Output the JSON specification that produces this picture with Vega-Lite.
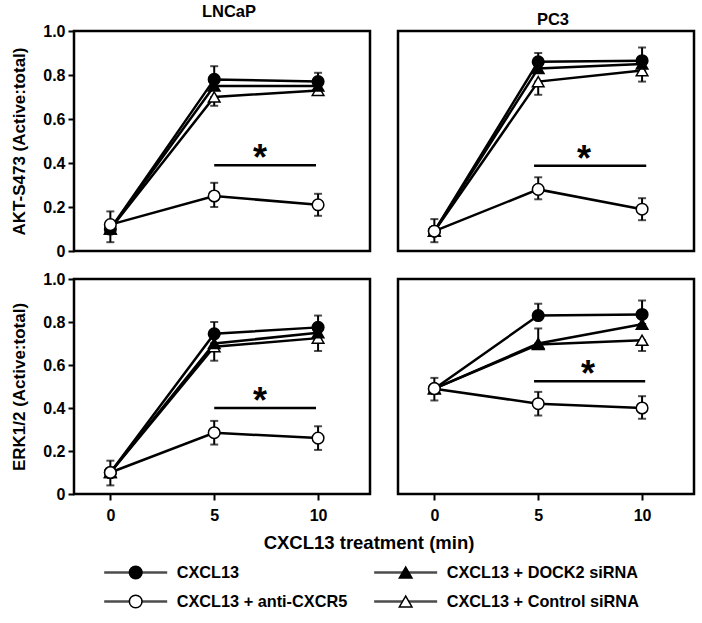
{
"$schema": "https://vega.github.io/schema/vega-lite/v6.json",
"background": "white",
"padding": {"top": 2, "left": 9, "right": 5, "bottom": 0},
"config": {
 "font": "Liberation Sans",
 "view": {"stroke": "black", "strokeWidth": 2.5},
 "axis": {"labelFont": "Liberation Sans", "labelFontWeight": "bold", "labelFontSize": 16, "labelColor": "black", "tickColor": "black", "tickWidth": 2, "tickSize": 6, "labelPadding": 3, "domain": false, "grid": false, "titleFont": "Liberation Sans", "titleFontWeight": "bold", "titleFontSize": 17, "titleColor": "black"},
 "title": {"font": "Liberation Sans", "fontWeight": "bold", "fontSize": 16.5, "color": "black", "offset": 3}
},
"datasets": {
 "pts": [
  {"cell":"LNCaP","measure":"AKT","series":"CXCL13 + Control siRNA","t":0,"v":0.10,"lo":0.10,"hi":0.10},
  {"cell":"LNCaP","measure":"AKT","series":"CXCL13 + Control siRNA","t":5,"v":0.70,"lo":0.66,"hi":0.70},
  {"cell":"LNCaP","measure":"AKT","series":"CXCL13 + Control siRNA","t":10,"v":0.73,"lo":0.71,"hi":0.73},
  {"cell":"LNCaP","measure":"AKT","series":"CXCL13 + DOCK2 siRNA","t":0,"v":0.10,"lo":0.10,"hi":0.10},
  {"cell":"LNCaP","measure":"AKT","series":"CXCL13 + DOCK2 siRNA","t":5,"v":0.75,"lo":0.75,"hi":0.75},
  {"cell":"LNCaP","measure":"AKT","series":"CXCL13 + DOCK2 siRNA","t":10,"v":0.75,"lo":0.75,"hi":0.75},
  {"cell":"LNCaP","measure":"AKT","series":"CXCL13","t":0,"v":0.10,"lo":0.10,"hi":0.10},
  {"cell":"LNCaP","measure":"AKT","series":"CXCL13","t":5,"v":0.78,"lo":0.78,"hi":0.84},
  {"cell":"LNCaP","measure":"AKT","series":"CXCL13","t":10,"v":0.77,"lo":0.77,"hi":0.81},
  {"cell":"LNCaP","measure":"AKT","series":"CXCL13 + anti-CXCR5","t":0,"v":0.12,"lo":0.04,"hi":0.18},
  {"cell":"LNCaP","measure":"AKT","series":"CXCL13 + anti-CXCR5","t":5,"v":0.25,"lo":0.20,"hi":0.31},
  {"cell":"LNCaP","measure":"AKT","series":"CXCL13 + anti-CXCR5","t":10,"v":0.21,"lo":0.16,"hi":0.26},

  {"cell":"PC3","measure":"AKT","series":"CXCL13 + Control siRNA","t":0,"v":0.09,"lo":0.09,"hi":0.09},
  {"cell":"PC3","measure":"AKT","series":"CXCL13 + Control siRNA","t":5,"v":0.77,"lo":0.71,"hi":0.77},
  {"cell":"PC3","measure":"AKT","series":"CXCL13 + Control siRNA","t":10,"v":0.82,"lo":0.77,"hi":0.82},
  {"cell":"PC3","measure":"AKT","series":"CXCL13 + DOCK2 siRNA","t":0,"v":0.09,"lo":0.09,"hi":0.09},
  {"cell":"PC3","measure":"AKT","series":"CXCL13 + DOCK2 siRNA","t":5,"v":0.83,"lo":0.83,"hi":0.83},
  {"cell":"PC3","measure":"AKT","series":"CXCL13 + DOCK2 siRNA","t":10,"v":0.85,"lo":0.85,"hi":0.85},
  {"cell":"PC3","measure":"AKT","series":"CXCL13","t":0,"v":0.09,"lo":0.09,"hi":0.09},
  {"cell":"PC3","measure":"AKT","series":"CXCL13","t":5,"v":0.86,"lo":0.86,"hi":0.90},
  {"cell":"PC3","measure":"AKT","series":"CXCL13","t":10,"v":0.865,"lo":0.865,"hi":0.925},
  {"cell":"PC3","measure":"AKT","series":"CXCL13 + anti-CXCR5","t":0,"v":0.09,"lo":0.04,"hi":0.145},
  {"cell":"PC3","measure":"AKT","series":"CXCL13 + anti-CXCR5","t":5,"v":0.28,"lo":0.235,"hi":0.335},
  {"cell":"PC3","measure":"AKT","series":"CXCL13 + anti-CXCR5","t":10,"v":0.19,"lo":0.14,"hi":0.24},

  {"cell":"LNCaP","measure":"ERK","series":"CXCL13 + Control siRNA","t":0,"v":0.10,"lo":0.10,"hi":0.10},
  {"cell":"LNCaP","measure":"ERK","series":"CXCL13 + Control siRNA","t":5,"v":0.685,"lo":0.62,"hi":0.685},
  {"cell":"LNCaP","measure":"ERK","series":"CXCL13 + Control siRNA","t":10,"v":0.725,"lo":0.665,"hi":0.725},
  {"cell":"LNCaP","measure":"ERK","series":"CXCL13 + DOCK2 siRNA","t":0,"v":0.10,"lo":0.10,"hi":0.10},
  {"cell":"LNCaP","measure":"ERK","series":"CXCL13 + DOCK2 siRNA","t":5,"v":0.70,"lo":0.70,"hi":0.70},
  {"cell":"LNCaP","measure":"ERK","series":"CXCL13 + DOCK2 siRNA","t":10,"v":0.75,"lo":0.75,"hi":0.75},
  {"cell":"LNCaP","measure":"ERK","series":"CXCL13","t":0,"v":0.10,"lo":0.10,"hi":0.10},
  {"cell":"LNCaP","measure":"ERK","series":"CXCL13","t":5,"v":0.745,"lo":0.745,"hi":0.80},
  {"cell":"LNCaP","measure":"ERK","series":"CXCL13","t":10,"v":0.775,"lo":0.775,"hi":0.83},
  {"cell":"LNCaP","measure":"ERK","series":"CXCL13 + anti-CXCR5","t":0,"v":0.10,"lo":0.04,"hi":0.155},
  {"cell":"LNCaP","measure":"ERK","series":"CXCL13 + anti-CXCR5","t":5,"v":0.285,"lo":0.23,"hi":0.34},
  {"cell":"LNCaP","measure":"ERK","series":"CXCL13 + anti-CXCR5","t":10,"v":0.26,"lo":0.205,"hi":0.315},

  {"cell":"PC3","measure":"ERK","series":"CXCL13 + Control siRNA","t":0,"v":0.49,"lo":0.49,"hi":0.49},
  {"cell":"PC3","measure":"ERK","series":"CXCL13 + Control siRNA","t":5,"v":0.695,"lo":0.695,"hi":0.695},
  {"cell":"PC3","measure":"ERK","series":"CXCL13 + Control siRNA","t":10,"v":0.715,"lo":0.665,"hi":0.715},
  {"cell":"PC3","measure":"ERK","series":"CXCL13 + DOCK2 siRNA","t":0,"v":0.49,"lo":0.49,"hi":0.49},
  {"cell":"PC3","measure":"ERK","series":"CXCL13 + DOCK2 siRNA","t":5,"v":0.70,"lo":0.70,"hi":0.77},
  {"cell":"PC3","measure":"ERK","series":"CXCL13 + DOCK2 siRNA","t":10,"v":0.79,"lo":0.79,"hi":0.79},
  {"cell":"PC3","measure":"ERK","series":"CXCL13","t":0,"v":0.49,"lo":0.49,"hi":0.49},
  {"cell":"PC3","measure":"ERK","series":"CXCL13","t":5,"v":0.83,"lo":0.83,"hi":0.885},
  {"cell":"PC3","measure":"ERK","series":"CXCL13","t":10,"v":0.835,"lo":0.835,"hi":0.90},
  {"cell":"PC3","measure":"ERK","series":"CXCL13 + anti-CXCR5","t":0,"v":0.49,"lo":0.435,"hi":0.54},
  {"cell":"PC3","measure":"ERK","series":"CXCL13 + anti-CXCR5","t":5,"v":0.42,"lo":0.365,"hi":0.475},
  {"cell":"PC3","measure":"ERK","series":"CXCL13 + anti-CXCR5","t":10,"v":0.40,"lo":0.35,"hi":0.455}
 ],
 "sig": [
  {"cell":"LNCaP","measure":"AKT","t":5,"t2":9.9,"tm":7.2,"v":0.39,"star":"*"},
  {"cell":"PC3","measure":"AKT","t":4.8,"t2":10.2,"tm":7.2,"v":0.388,"star":"*"},
  {"cell":"LNCaP","measure":"ERK","t":5,"t2":9.9,"tm":7.2,"v":0.40,"star":"*"},
  {"cell":"PC3","measure":"ERK","t":4.8,"t2":10.15,"tm":7.4,"v":0.524,"star":"*"}
 ],
 "leg": [
  {"series":"CXCL13","label":"CXCL13","lcol":0,"lrow":0},
  {"series":"CXCL13 + anti-CXCR5","label":"CXCL13 + anti-CXCR5","lcol":0,"lrow":1},
  {"series":"CXCL13 + DOCK2 siRNA","label":"CXCL13 + DOCK2 siRNA","lcol":1,"lrow":0},
  {"series":"CXCL13 + Control siRNA","label":"CXCL13 + Control siRNA","lcol":1,"lrow":1}
 ]
},
"spacing": 8,
"vconcat": [
 {
  "columns": 2,
  "spacing": {"row": 8, "column": 24},
  "concat": [
   {
    "width": 296, "height": 220,
    "title": {"text": "LNCaP", "dx": 7},
    "encoding": {
     "x": {"field":"t","type":"quantitative","scale":{"domain":[-1.75,12.5]},"axis":null},
     "y": {"field":"v","type":"quantitative","scale":{"domain":[0,1]},"axis":{"values":[0,0.2,0.4,0.6,0.8,1],"labelExpr":"datum.value == 0 ? '0' : format(datum.value, '.1f')","title":"AKT-S473 (Active:total)","titlePadding":14}}
    },
    "layer": [
     {"data":{"name":"pts"},"transform":[{"filter":"datum.cell == 'LNCaP' && datum.measure == 'AKT'"}],"mark":{"type":"rule","strokeWidth":2,"color":"black"},"encoding":{"y":{"field":"lo","type":"quantitative","scale":{"domain":[0,1]},"axis":{"values":[0,0.2,0.4,0.6,0.8,1],"labelExpr":"datum.value == 0 ? '0' : format(datum.value, '.1f')","title":"AKT-S473 (Active:total)","titlePadding":14}},"y2":{"field":"hi"}}},
     {"data":{"name":"pts"},"transform":[{"filter":"datum.cell == 'LNCaP' && datum.measure == 'AKT'"}],"mark":{"type":"tick","orient":"horizontal","size":8,"thickness":2,"color":"black"},"encoding":{"y":{"field":"hi","type":"quantitative","scale":{"domain":[0,1]},"axis":{"values":[0,0.2,0.4,0.6,0.8,1],"labelExpr":"datum.value == 0 ? '0' : format(datum.value, '.1f')","title":"AKT-S473 (Active:total)","titlePadding":14}}}},
     {"data":{"name":"pts"},"transform":[{"filter":"datum.cell == 'LNCaP' && datum.measure == 'AKT'"}],"mark":{"type":"tick","orient":"horizontal","size":8,"thickness":2,"color":"black"},"encoding":{"y":{"field":"lo","type":"quantitative","scale":{"domain":[0,1]},"axis":{"values":[0,0.2,0.4,0.6,0.8,1],"labelExpr":"datum.value == 0 ? '0' : format(datum.value, '.1f')","title":"AKT-S473 (Active:total)","titlePadding":14}}}},
     {"data":{"name":"pts"},"transform":[{"filter":"datum.cell == 'LNCaP' && datum.measure == 'AKT'"}],"mark":{"type":"line","color":"black","strokeWidth":2.5},"encoding":{"detail":{"field":"series"}}},
     {"data":{"name":"pts"},"transform":[{"filter":"datum.cell == 'LNCaP' && datum.measure == 'AKT'"}],"mark":{"type":"point","filled":true,"size":135,"stroke":"black","strokeWidth":1.5,"opacity":1},"encoding":{"shape":{"field":"series","type":"nominal","scale":{"domain":["CXCL13","CXCL13 + anti-CXCR5","CXCL13 + DOCK2 siRNA","CXCL13 + Control siRNA"],"range":["circle","circle","triangle-up","triangle-up"]},"legend":null},"fill":{"field":"series","type":"nominal","scale":{"domain":["CXCL13","CXCL13 + anti-CXCR5","CXCL13 + DOCK2 siRNA","CXCL13 + Control siRNA"],"range":["black","white","black","white"]},"legend":null}}},
     {"data":{"name":"sig"},"transform":[{"filter":"datum.cell == 'LNCaP' && datum.measure == 'AKT'"}],"mark":{"type":"rule","strokeWidth":2.5,"color":"black"},"encoding":{"x2":{"field":"t2"}}},
     {"data":{"name":"sig"},"transform":[{"filter":"datum.cell == 'LNCaP' && datum.measure == 'AKT'"}],"mark":{"type":"text","fontSize":36,"fontWeight":"bold","baseline":"alphabetic","dy":5,"color":"black"},"encoding":{"x":{"field":"tm","type":"quantitative","scale":{"domain":[-1.75,12.5]},"axis":null},"text":{"field":"star"}}}
    ]
   },
   {
    "width": 296, "height": 220,
    "title": {"text": "PC3", "dx": 7},
    "encoding": {
     "x": {"field":"t","type":"quantitative","scale":{"domain":[-1.75,12.5]},"axis":null},
     "y": {"field":"v","type":"quantitative","scale":{"domain":[0,1]},"axis":null}
    },
    "layer": [
     {"data":{"name":"pts"},"transform":[{"filter":"datum.cell == 'PC3' && datum.measure == 'AKT'"}],"mark":{"type":"rule","strokeWidth":2,"color":"black"},"encoding":{"y":{"field":"lo","type":"quantitative","scale":{"domain":[0,1]},"axis":null},"y2":{"field":"hi"}}},
     {"data":{"name":"pts"},"transform":[{"filter":"datum.cell == 'PC3' && datum.measure == 'AKT'"}],"mark":{"type":"tick","orient":"horizontal","size":8,"thickness":2,"color":"black"},"encoding":{"y":{"field":"hi","type":"quantitative","scale":{"domain":[0,1]},"axis":null}}},
     {"data":{"name":"pts"},"transform":[{"filter":"datum.cell == 'PC3' && datum.measure == 'AKT'"}],"mark":{"type":"tick","orient":"horizontal","size":8,"thickness":2,"color":"black"},"encoding":{"y":{"field":"lo","type":"quantitative","scale":{"domain":[0,1]},"axis":null}}},
     {"data":{"name":"pts"},"transform":[{"filter":"datum.cell == 'PC3' && datum.measure == 'AKT'"}],"mark":{"type":"line","color":"black","strokeWidth":2.5},"encoding":{"detail":{"field":"series"}}},
     {"data":{"name":"pts"},"transform":[{"filter":"datum.cell == 'PC3' && datum.measure == 'AKT'"}],"mark":{"type":"point","filled":true,"size":135,"stroke":"black","strokeWidth":1.5,"opacity":1},"encoding":{"shape":{"field":"series","type":"nominal","scale":{"domain":["CXCL13","CXCL13 + anti-CXCR5","CXCL13 + DOCK2 siRNA","CXCL13 + Control siRNA"],"range":["circle","circle","triangle-up","triangle-up"]},"legend":null},"fill":{"field":"series","type":"nominal","scale":{"domain":["CXCL13","CXCL13 + anti-CXCR5","CXCL13 + DOCK2 siRNA","CXCL13 + Control siRNA"],"range":["black","white","black","white"]},"legend":null}}},
     {"data":{"name":"sig"},"transform":[{"filter":"datum.cell == 'PC3' && datum.measure == 'AKT'"}],"mark":{"type":"rule","strokeWidth":2.5,"color":"black"},"encoding":{"x2":{"field":"t2"}}},
     {"data":{"name":"sig"},"transform":[{"filter":"datum.cell == 'PC3' && datum.measure == 'AKT'"}],"mark":{"type":"text","fontSize":36,"fontWeight":"bold","baseline":"alphabetic","dy":5,"color":"black"},"encoding":{"x":{"field":"tm","type":"quantitative","scale":{"domain":[-1.75,12.5]},"axis":null},"text":{"field":"star"}}}
    ]
   },
   {
    "width": 296, "height": 215,
    "encoding": {
     "x": {"field":"t","type":"quantitative","scale":{"domain":[-1.75,12.5]},"axis":{"values":[0,5,10],"title":null,"labelPadding":7}},
     "y": {"field":"v","type":"quantitative","scale":{"domain":[0,1]},"axis":{"values":[0,0.2,0.4,0.6,0.8,1],"labelExpr":"datum.value == 0 ? '0' : format(datum.value, '.1f')","title":"ERK1/2 (Active:total)","titlePadding":14}}
    },
    "layer": [
     {"data":{"name":"pts"},"transform":[{"filter":"datum.cell == 'LNCaP' && datum.measure == 'ERK'"}],"mark":{"type":"rule","strokeWidth":2,"color":"black"},"encoding":{"y":{"field":"lo","type":"quantitative","scale":{"domain":[0,1]},"axis":{"values":[0,0.2,0.4,0.6,0.8,1],"labelExpr":"datum.value == 0 ? '0' : format(datum.value, '.1f')","title":"ERK1/2 (Active:total)","titlePadding":14}},"y2":{"field":"hi"}}},
     {"data":{"name":"pts"},"transform":[{"filter":"datum.cell == 'LNCaP' && datum.measure == 'ERK'"}],"mark":{"type":"tick","orient":"horizontal","size":8,"thickness":2,"color":"black"},"encoding":{"y":{"field":"hi","type":"quantitative","scale":{"domain":[0,1]},"axis":{"values":[0,0.2,0.4,0.6,0.8,1],"labelExpr":"datum.value == 0 ? '0' : format(datum.value, '.1f')","title":"ERK1/2 (Active:total)","titlePadding":14}}}},
     {"data":{"name":"pts"},"transform":[{"filter":"datum.cell == 'LNCaP' && datum.measure == 'ERK'"}],"mark":{"type":"tick","orient":"horizontal","size":8,"thickness":2,"color":"black"},"encoding":{"y":{"field":"lo","type":"quantitative","scale":{"domain":[0,1]},"axis":{"values":[0,0.2,0.4,0.6,0.8,1],"labelExpr":"datum.value == 0 ? '0' : format(datum.value, '.1f')","title":"ERK1/2 (Active:total)","titlePadding":14}}}},
     {"data":{"name":"pts"},"transform":[{"filter":"datum.cell == 'LNCaP' && datum.measure == 'ERK'"}],"mark":{"type":"line","color":"black","strokeWidth":2.5},"encoding":{"detail":{"field":"series"}}},
     {"data":{"name":"pts"},"transform":[{"filter":"datum.cell == 'LNCaP' && datum.measure == 'ERK'"}],"mark":{"type":"point","filled":true,"size":135,"stroke":"black","strokeWidth":1.5,"opacity":1},"encoding":{"shape":{"field":"series","type":"nominal","scale":{"domain":["CXCL13","CXCL13 + anti-CXCR5","CXCL13 + DOCK2 siRNA","CXCL13 + Control siRNA"],"range":["circle","circle","triangle-up","triangle-up"]},"legend":null},"fill":{"field":"series","type":"nominal","scale":{"domain":["CXCL13","CXCL13 + anti-CXCR5","CXCL13 + DOCK2 siRNA","CXCL13 + Control siRNA"],"range":["black","white","black","white"]},"legend":null}}},
     {"data":{"name":"sig"},"transform":[{"filter":"datum.cell == 'LNCaP' && datum.measure == 'ERK'"}],"mark":{"type":"rule","strokeWidth":2.5,"color":"black"},"encoding":{"x2":{"field":"t2"}}},
     {"data":{"name":"sig"},"transform":[{"filter":"datum.cell == 'LNCaP' && datum.measure == 'ERK'"}],"mark":{"type":"text","fontSize":36,"fontWeight":"bold","baseline":"alphabetic","dy":5,"color":"black"},"encoding":{"x":{"field":"tm","type":"quantitative","scale":{"domain":[-1.75,12.5]},"axis":{"values":[0,5,10],"title":null,"labelPadding":7}},"text":{"field":"star"}}}
    ]
   },
   {
    "width": 296, "height": 215,
    "encoding": {
     "x": {"field":"t","type":"quantitative","scale":{"domain":[-1.75,12.5]},"axis":{"values":[0,5,10],"title":null,"labelPadding":7}},
     "y": {"field":"v","type":"quantitative","scale":{"domain":[0,1]},"axis":null}
    },
    "layer": [
     {"data":{"name":"pts"},"transform":[{"filter":"datum.cell == 'PC3' && datum.measure == 'ERK'"}],"mark":{"type":"rule","strokeWidth":2,"color":"black"},"encoding":{"y":{"field":"lo","type":"quantitative","scale":{"domain":[0,1]},"axis":null},"y2":{"field":"hi"}}},
     {"data":{"name":"pts"},"transform":[{"filter":"datum.cell == 'PC3' && datum.measure == 'ERK'"}],"mark":{"type":"tick","orient":"horizontal","size":8,"thickness":2,"color":"black"},"encoding":{"y":{"field":"hi","type":"quantitative","scale":{"domain":[0,1]},"axis":null}}},
     {"data":{"name":"pts"},"transform":[{"filter":"datum.cell == 'PC3' && datum.measure == 'ERK'"}],"mark":{"type":"tick","orient":"horizontal","size":8,"thickness":2,"color":"black"},"encoding":{"y":{"field":"lo","type":"quantitative","scale":{"domain":[0,1]},"axis":null}}},
     {"data":{"name":"pts"},"transform":[{"filter":"datum.cell == 'PC3' && datum.measure == 'ERK'"}],"mark":{"type":"line","color":"black","strokeWidth":2.5},"encoding":{"detail":{"field":"series"}}},
     {"data":{"name":"pts"},"transform":[{"filter":"datum.cell == 'PC3' && datum.measure == 'ERK'"}],"mark":{"type":"point","filled":true,"size":135,"stroke":"black","strokeWidth":1.5,"opacity":1},"encoding":{"shape":{"field":"series","type":"nominal","scale":{"domain":["CXCL13","CXCL13 + anti-CXCR5","CXCL13 + DOCK2 siRNA","CXCL13 + Control siRNA"],"range":["circle","circle","triangle-up","triangle-up"]},"legend":null},"fill":{"field":"series","type":"nominal","scale":{"domain":["CXCL13","CXCL13 + anti-CXCR5","CXCL13 + DOCK2 siRNA","CXCL13 + Control siRNA"],"range":["black","white","black","white"]},"legend":null}}},
     {"data":{"name":"sig"},"transform":[{"filter":"datum.cell == 'PC3' && datum.measure == 'ERK'"}],"mark":{"type":"rule","strokeWidth":2.5,"color":"black"},"encoding":{"x2":{"field":"t2"}}},
     {"data":{"name":"sig"},"transform":[{"filter":"datum.cell == 'PC3' && datum.measure == 'ERK'"}],"mark":{"type":"text","fontSize":36,"fontWeight":"bold","baseline":"alphabetic","dy":5,"color":"black"},"encoding":{"x":{"field":"tm","type":"quantitative","scale":{"domain":[-1.75,12.5]},"axis":{"values":[0,5,10],"title":null,"labelPadding":7}},"text":{"field":"star"}}}
    ]
   }
  ]
 },
 {
  "width": 600, "height": 58,
  "data": {"name": "leg"},
  "view": {"stroke": null},
  "title": {"text": "CXCL13 treatment (min)", "fontSize": 18.5, "anchor": "middle", "dx": -5, "offset": 6},
  "encoding": {
   "x": {"field":"lcol","type":"quantitative","scale":{"domain":[-0.2285,1.994]},"axis":null},
   "y": {"field":"lrow","type":"ordinal","scale":{"type":"point","padding":0.5},"axis":null}
  },
  "layer": [
   {"mark":{"type":"tick","orient":"horizontal","size":63,"thickness":2.5,"color":"black"}},
   {"mark":{"type":"point","filled":true,"size":160,"stroke":"black","strokeWidth":1.5,"opacity":1},"encoding":{"shape":{"field":"series","type":"nominal","scale":{"domain":["CXCL13","CXCL13 + anti-CXCR5","CXCL13 + DOCK2 siRNA","CXCL13 + Control siRNA"],"range":["circle","circle","triangle-up","triangle-up"]},"legend":null},"fill":{"field":"series","type":"nominal","scale":{"domain":["CXCL13","CXCL13 + anti-CXCR5","CXCL13 + DOCK2 siRNA","CXCL13 + Control siRNA"],"range":["black","white","black","white"]},"legend":null}}},
   {"mark":{"type":"text","align":"left","baseline":"middle","dx":41,"fontSize":16.3,"fontWeight":"bold","color":"black"},"encoding":{"text":{"field":"label"}}}
  ]
 }
]
}
